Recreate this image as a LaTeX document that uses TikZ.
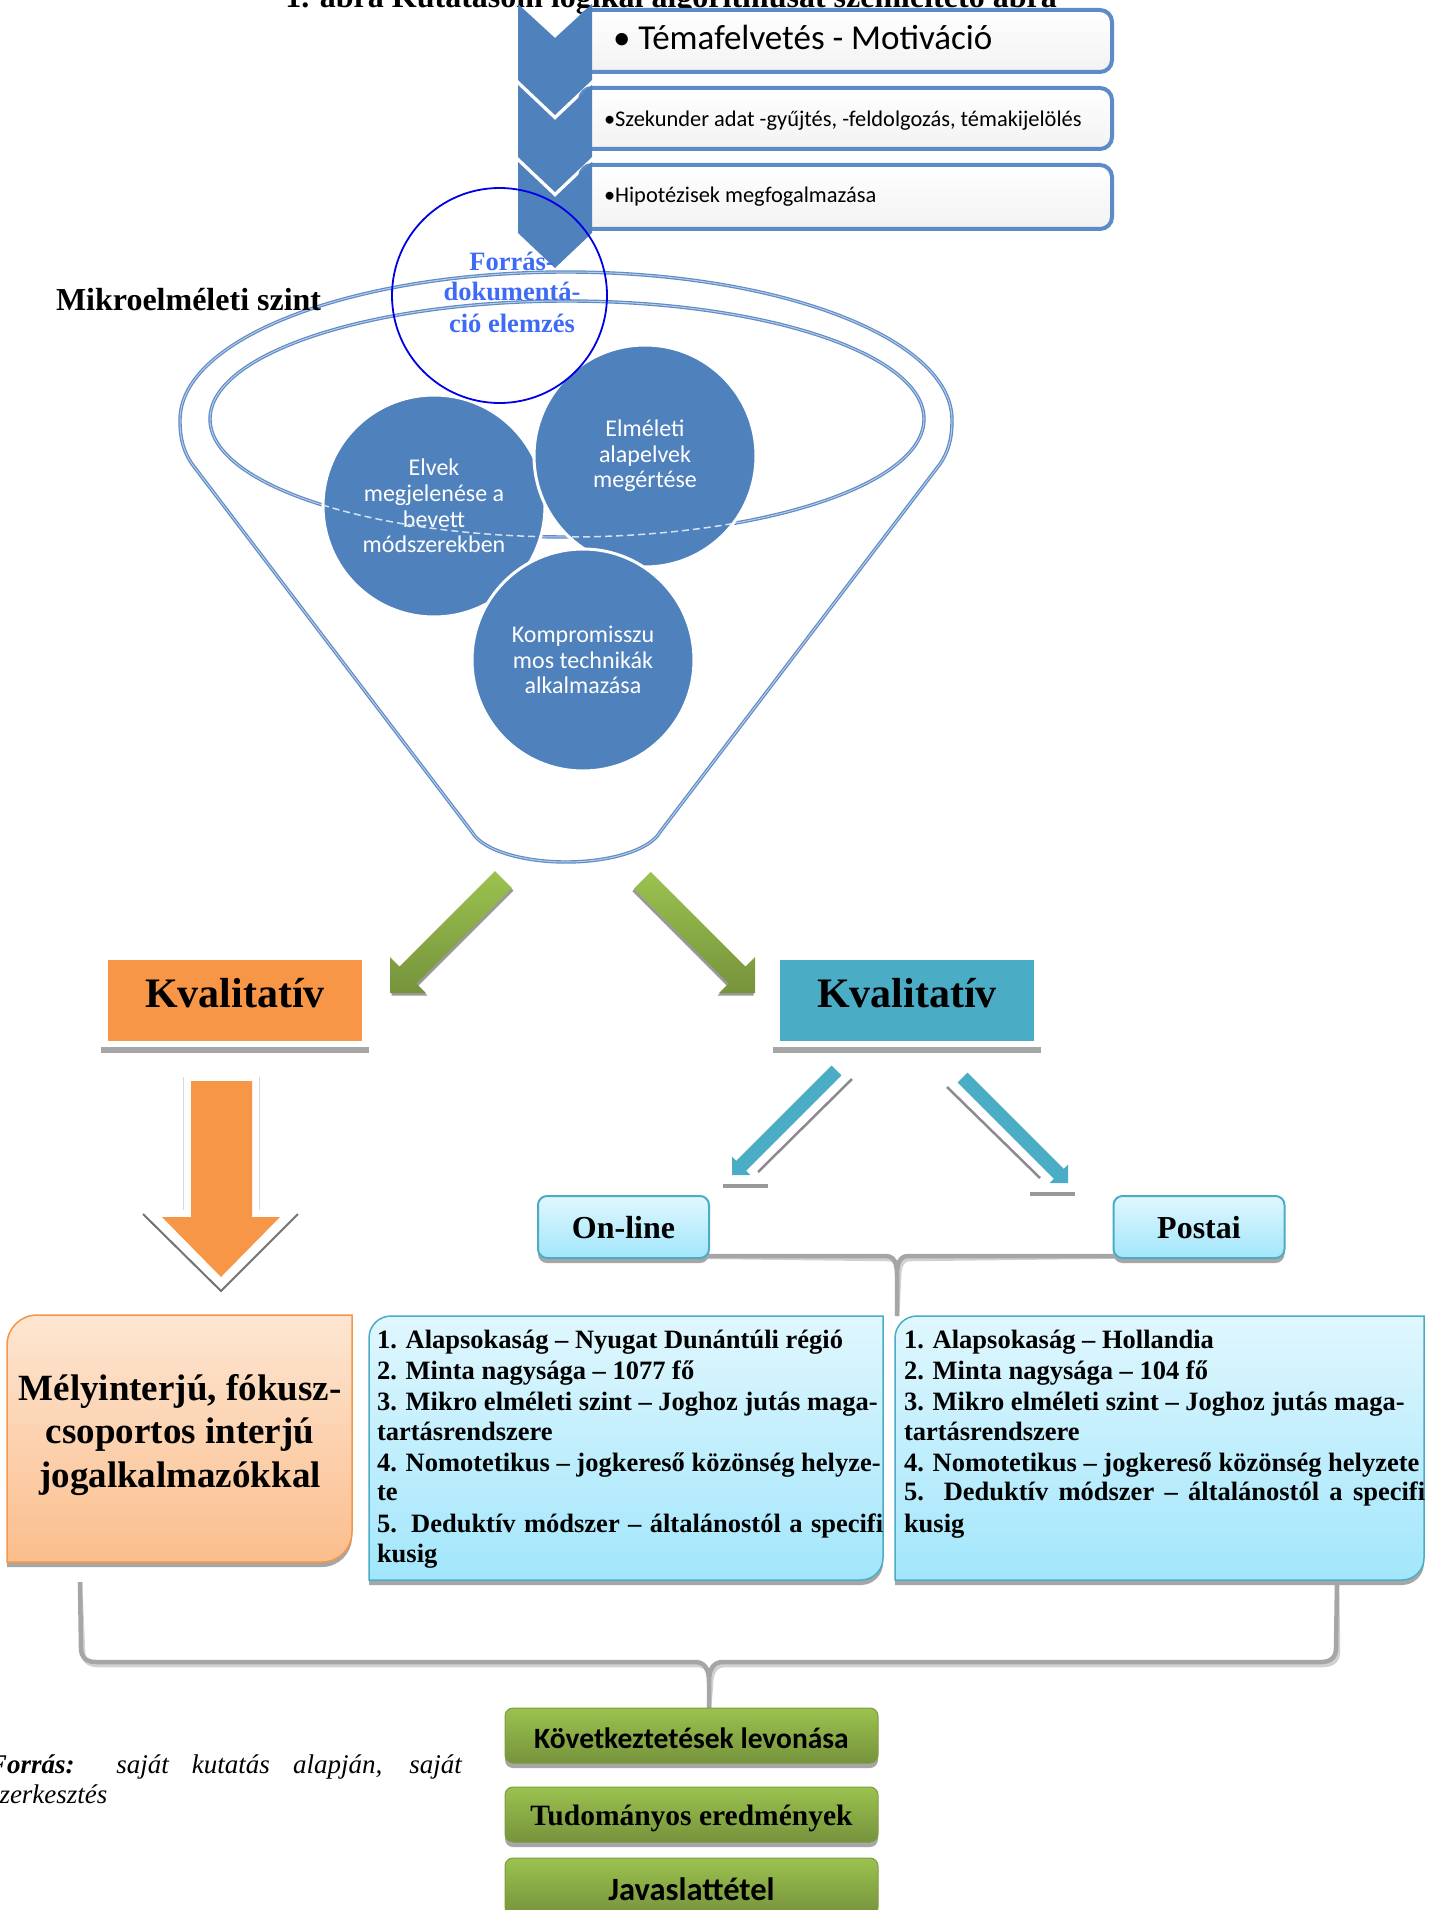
\documentclass[tikz,border=0pt]{standalone}
\usepackage{fontspec}
\setmainfont{Liberation Serif}[ItalicFont=Liberation Serif Italic, BoldFont=Liberation Serif Bold, BoldItalicFont=Liberation Serif Bold Italic]
\newfontfamily\calib{Carlito}
\usetikzlibrary{shadows}
\definecolor{chevblue}{HTML}{4F81BD}
\definecolor{boxline}{HTML}{5B8CC8}
\definecolor{funnel}{HTML}{5E8BC6}
\definecolor{funnelin}{HTML}{B9CDE8}
\definecolor{forrasline}{HTML}{0000E6}
\definecolor{forrastext}{HTML}{3D6BF5}
\definecolor{grnA}{HTML}{9BC24F}
\definecolor{grnB}{HTML}{76933C}
\definecolor{orng}{HTML}{F79646}
\definecolor{tealc}{HTML}{4BACC6}
\definecolor{cyanA}{HTML}{E0F7FE}
\definecolor{cyanB}{HTML}{A2E6FB}
\definecolor{peachA}{HTML}{FDE6D2}
\definecolor{peachB}{HTML}{FBBE8D}
\definecolor{bracegray}{HTML}{A6A6A6}
\tikzset{
  every node/.style={inner sep=0pt, outer sep=0pt},
  myshadow/.style={drop shadow={shadow xshift=0pt, shadow yshift=-5pt, fill=black!35, opacity=1}},
  chevbox/.style={draw=boxline, line width=4pt, top color=white, bottom color=black!5, rounded corners=12pt},
  funnelline/.style={draw=funnel, line width=1.2pt, double=funnelin, double distance=1pt},
  bubble/.style={circle, fill=chevblue, draw=white, line width=3pt, minimum size=222pt, text=white, align=center, font=\calib\fontsize{24}{25.7}\selectfont},
  kval/.style={rectangle, minimum width=254pt, minimum height=81pt, text height=14pt, text depth=0pt, font=\bfseries\fontsize{42}{48}\selectfont},
  smallbox/.style={rectangle, rounded corners=9pt, top color=cyanA, bottom color=cyanB, draw=tealc, line width=2pt, minimum width=171pt, minimum height=62pt, text height=22pt, text depth=0pt, font=\bfseries\fontsize{32}{36}\selectfont, myshadow},
  gbox/.style={rectangle, rounded corners=8pt, top color=grnA, bottom color=grnB, draw=grnB!80!grnA, line width=1pt, minimum width=373pt, myshadow},
  brace/.style={draw=bracegray, line width=4.5pt, line join=round},
  braceshadow/.style={draw=black!18, line width=4.5pt, line join=round},
  bluetext/.style={anchor=base west, font=\bfseries\fontsize{26.5}{30}\selectfont},
}
\begin{document}
\begin{tikzpicture}[x=1pt,y=-1pt]
\useasboundingbox (0,0) rectangle (1435,1910);
\fill[white] (0,0) rectangle (1435,1910);

% title (partly above the page)
\node[anchor=base, font=\bfseries\fontsize{32}{36}\selectfont] (title) at (671,8) {1. ábra Kutatásom logikai algoritmusát szemléltető ábra};

% text boxes beside chevrons
\path[chevbox] (580,10) rectangle (1112,72);
\path[chevbox] (580,88) rectangle (1112,149);
\path[chevbox] (580,165) rectangle (1112,229);
\node[anchor=base west, font=\calib\fontsize{35}{40}\selectfont] (t1) at (613,50) {• Témafelvetés - Motiváció};
\node[anchor=base west, font=\calib\fontsize{22.4}{26}\selectfont] (t2) at (604,127) {•Szekunder adat -gyűjtés, -feldolgozás, témakijelölés};
\node[anchor=base west, font=\calib\fontsize{22.4}{26}\selectfont] (t3) at (604,203) {•Hipotézisek megfogalmazása};

% chevrons
\fill[chevblue] (518,4) -- (555,38) -- (592,4) -- (592,80) -- (555,115) -- (518,80) -- cycle;
\fill[chevblue] (518,85) -- (555,120) -- (592,85) -- (592,157) -- (555,192) -- (518,157) -- cycle;
\fill[chevblue] (518,162) -- (555,197) -- (592,162) -- (592,233) -- (555,268) -- (518,233) -- cycle;

% funnel
\path[funnelline] (180,420) .. controls (180,338.3) and (352.8,272) .. (566,272)
  .. controls (779.2,272) and (952,338.3) .. (952,420)
  .. controls (952,440) and (948,452) .. (940,464) -- (660,832)
  .. controls (650,850) and (610,862) .. (566,862)
  .. controls (522,862) and (482,850) .. (472,832) -- (192,464)
  .. controls (184,452) and (180,440) .. (180,420) -- cycle;
\path[funnelline] (567,419) ellipse [x radius=357, y radius=118];

% bubbles
\node[bubble] (elvek) at (434,506) {Elvek\\megjelenése a\\bevett\\módszerekben};
\node[bubble] (elmeleti) at (645,456) {Elméleti\\alapelvek\\megértése};
\node[bubble] (kompr) at (583,660) {Kompromisszu\\mos technikák\\alkalmazása};
\begin{scope}
  \clip (434,506) circle [radius=109] (645,456) circle [radius=110] (583,660) circle [radius=110];
  \draw[white!75!funnel, line width=1.5pt, dash pattern=on 7pt off 4pt] (567,419) ellipse [x radius=357, y radius=118];
\end{scope}

% Forras circle
\node[circle, draw=forrasline, line width=1.8pt, minimum size=215pt] (forras) at (499.5,295.5) {};
\node[anchor=base, text=forrastext, font=\bfseries\fontsize{26.5}{31}\selectfont] (f1) at (512,270) {Forrás-};
\node[anchor=base, text=forrastext, font=\bfseries\fontsize{26.5}{31}\selectfont] (f2) at (512,300) {dokumentá-};
\node[anchor=base, text=forrastext, font=\bfseries\fontsize{26.5}{31}\selectfont] (f3) at (512,332) {ció elemzés};

\node[anchor=base west, font=\bfseries\fontsize{32}{36}\selectfont] (mikro) at (56,310) {Mikroelméleti szint};

% green arrows
\path[top color=grnA, bottom color=grnB, drop shadow={shadow xshift=1.5pt, shadow yshift=-2.5pt, fill=black!40, opacity=1}]
  (495,871) -- (512,888) -- (416.5,983.5) -- (426,993) -- (390,993) -- (390,957) -- (399.5,966.5) -- cycle;
\path[top color=grnA, bottom color=grnB, drop shadow={shadow xshift=-1.5pt, shadow yshift=-2.5pt, fill=black!40, opacity=1}]
  (633.8,888.7) -- (650.7,871.8) -- (745.5,966.5) -- (755,957) -- (755,993) -- (719,993) -- (728.5,983.5) -- cycle;

% Kvalitativ boxes
\fill[black!35] (101,1047) rectangle (369,1053);
\node[kval, fill=orng] (kvalL) at (235,1000.5) {Kvalitatív};
\fill[black!35] (773,1047) rectangle (1041,1053);
\node[kval, fill=tealc] (kvalR) at (907,1000.5) {Kvalitatív};

% orange down arrow
\draw[black!15, line width=0.8pt] (183,1077) -- (183,1210) (259,1077) -- (259,1210);
\draw[black!55, line width=2pt] (143,1214) -- (221,1291) -- (298,1214);
\fill[orng] (191,1081) -- (252,1081) -- (252,1217) -- (280,1217) -- (221,1277) -- (162,1217) -- (191,1217) -- cycle;

% blue arrows
\draw[black!45, line width=2.5pt] (852,1079) -- (758,1172);
\fill[black!40] (723,1184) rectangle (768,1188);
\fill[tealc] (831.5,1065.5) -- (841.4,1075.4) -- (746.1,1170.7) -- (750.4,1175) -- (732,1175) -- (732,1156.6) -- (736.3,1160.9) -- cycle;
\draw[black!45, line width=2.5pt] (947,1087) -- (1040,1178);
\fill[black!40] (1030,1192) rectangle (1075,1196);
\fill[tealc] (957.55,1082.45) -- (967.45,1072.55) -- (1063.75,1168.85) -- (1068,1164.6) -- (1068,1183) -- (1049.6,1183) -- (1053.85,1178.75) -- cycle;

% upper brace
\coordinate (ubL) at (640,1256);
\coordinate (ubR) at (1160,1256);
\coordinate (ubM) at (897,1316);
\path[braceshadow, shift={(2,3)}] (ubL) -- (885,1256) .. controls (894,1256) and (897,1262) .. (897,1276) -- (ubM)
   (ubR) -- (909,1256) .. controls (900,1256) and (897,1262) .. (897,1276);
\path[brace] (ubL) -- (885,1256) .. controls (894,1256) and (897,1262) .. (897,1276) -- (ubM)
   (ubR) -- (909,1256) .. controls (900,1256) and (897,1262) .. (897,1276);

\node[smallbox] (online) at (623.5,1227) {On-line};
\node[smallbox] (postai) at (1199,1227) {Postai};

% lower big brace
\coordinate (lbL) at (80,1582);
\coordinate (lbR) at (1337,1582);
\coordinate (lbM) at (709,1708);
\path[braceshadow, shift={(2,3)}] (lbL) -- (81,1648) .. controls (81,1657) and (86,1662) .. (96,1662) -- (695,1662) .. controls (704,1662) and (709,1668) .. (709,1682) -- (lbM)
  (lbR) -- (1336,1648) .. controls (1336,1657) and (1331,1662) .. (1321,1662) -- (723,1662) .. controls (714,1662) and (709,1668) .. (709,1682);
\path[brace] (lbL) -- (81,1648) .. controls (81,1657) and (86,1662) .. (96,1662) -- (695,1662) .. controls (704,1662) and (709,1668) .. (709,1682) -- (lbM)
  (lbR) -- (1336,1648) .. controls (1336,1657) and (1331,1662) .. (1321,1662) -- (723,1662) .. controls (714,1662) and (709,1668) .. (709,1682);

% orange rounded box
\path[draw=orng, line width=1.5pt, top color=peachA, bottom color=peachB, myshadow]
  (7,1345) .. controls (7,1328.43) and (20.43,1315) .. (37,1315) -- (352,1315) -- (352,1532)
  .. controls (352,1548.57) and (338.57,1562) .. (322,1562) -- (7,1562) -- cycle;
\node[anchor=base, font=\bfseries\fontsize{37}{43}\selectfont] (m1) at (180,1400) {Mélyinterjú, fókusz-};
\node[anchor=base, font=\bfseries\fontsize{37}{43}\selectfont] (m2) at (180,1443) {csoportos interjú};
\node[anchor=base, font=\bfseries\fontsize{37}{43}\selectfont] (m3) at (180,1487) {jogalkalmazókkal};

% left blue box
\path[draw=tealc, line width=1.5pt, top color=cyanA, bottom color=cyanB, myshadow]
  (369,1338) .. controls (369,1325.85) and (378.85,1316) .. (391,1316) -- (883,1316) -- (883,1558)
  .. controls (883,1570.15) and (873.15,1580) .. (861,1580) -- (369,1580) -- cycle;
\begin{scope}
  \clip (369,1338) .. controls (369,1325.85) and (378.85,1316) .. (391,1316) -- (883,1316) -- (883,1558)
  .. controls (883,1570.15) and (873.15,1580) .. (861,1580) -- (369,1580) -- cycle;
  \node[bluetext] (b1) at (377,1348) {1. Alapsokaság – Nyugat Dunántúli régió};
  \node[bluetext] (b2) at (377,1379) {2. Minta nagysága – 1077 fő};
  \node[bluetext] (b3) at (377,1410) {3. Mikro elméleti szint – Joghoz jutás maga-};
  \node[bluetext] (b4) at (377,1440) {tartásrendszere};
  \node[bluetext] (b5) at (377,1471) {4. Nomotetikus – jogkereső közönség helyze-};
  \node[bluetext] (b6) at (377,1500) {te};
  \node[bluetext] (b7) at (377,1532) {\hbox to 515pt{5. Deduktív módszer – általánostól a specifi-}};
  \node[bluetext] (b8) at (377,1562) {kusig};
\end{scope}

% right blue box
\path[draw=tealc, line width=1.5pt, top color=cyanA, bottom color=cyanB, myshadow]
  (895,1338) .. controls (895,1325.85) and (904.85,1316) .. (917,1316) -- (1424,1316) -- (1424,1558)
  .. controls (1424,1570.15) and (1414.15,1580) .. (1402,1580) -- (895,1580) -- cycle;
\begin{scope}
  \clip (895,1338) .. controls (895,1325.85) and (904.85,1316) .. (917,1316) -- (1424,1316) -- (1424,1558)
  .. controls (1424,1570.15) and (1414.15,1580) .. (1402,1580) -- (895,1580) -- cycle;
  \node[bluetext] (r1) at (904,1348) {1. Alapsokaság – Hollandia};
  \node[bluetext] (r2) at (904,1379) {2. Minta nagysága – 104 fő};
  \node[bluetext] (r3) at (904,1410) {3. Mikro elméleti szint – Joghoz jutás maga-};
  \node[bluetext] (r4) at (904,1440) {tartásrendszere};
  \node[bluetext] (r5) at (904,1471) {4. Nomotetikus – jogkereső közönség helyzete};
  \node[bluetext] (r6) at (904,1500) {\hbox to 530pt{5. Deduktív módszer – általánostól a specifi-}};
  \node[bluetext] (r7) at (904,1532) {kusig};
\end{scope}

% green boxes
\node[gbox, minimum height=55pt, text height=25pt, text depth=0pt, font=\calib\bfseries\fontsize{29.5}{32}\selectfont] (g1) at (691.5,1735.5) {Következtetések levonása};
\node[gbox, minimum height=55pt, text height=21pt, text depth=0pt, font=\bfseries\fontsize{29.5}{32}\selectfont] (g2) at (691.5,1814.5) {Tudományos eredmények};
\node[gbox, minimum height=57pt, text height=27pt, text depth=0pt, font=\calib\bfseries\fontsize{32.5}{36}\selectfont] (g3) at (691.5,1886.5) {Javaslattétel};

% source note
\node[anchor=base west, font=\itshape\fontsize{27}{30}\selectfont] (src1) at (-11,1773) {\hbox to 473pt{\textbf{Forrás:} saját kutatás alapján, saját}};
\node[anchor=base west, font=\itshape\fontsize{27}{30}\selectfont] (src2) at (-11,1803) {szerkesztés};
\end{tikzpicture}
\end{document}
